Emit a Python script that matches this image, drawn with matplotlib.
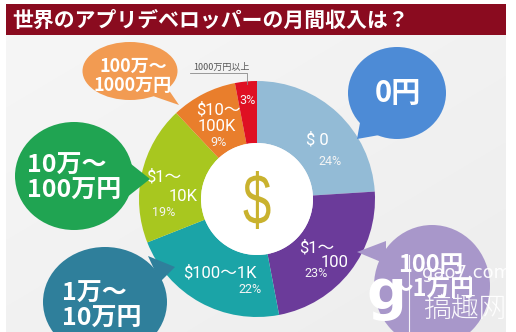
import numpy as np
import matplotlib
matplotlib.use("Agg")
import matplotlib.pyplot as plt
from matplotlib.patches import Ellipse, Polygon, Rectangle, PathPatch
from matplotlib.textpath import TextPath
from matplotlib.font_manager import FontProperties
from matplotlib.transforms import Affine2D

plt.rcParams['font.family'] = ['Noto Sans CJK JP', 'DejaVu Sans']

# ---- data ----
title = "世界のアプリデベロッパーの月間収入は？"
ranges_usd = ["$ 0", "$1～\n100", "$100～1K", "$1～\n10K", "$10～\n100K", ""]
shares = [24, 23, 22, 19, 9, 3]
share_labels = ["24%", "23%", "22%", "19%", "9%", "3%"]
ranges_yen = ["0円", "100円\n～1万円", "1万～\n10万円", "10万～\n100万円", "100万～\n1000万円"]
top_note = "1000万円以上"
site_name = "gao7.com"
site_brand = "搞趣网"

# ---- styling ----
W, H = 516, 332
slice_colors = ["#93bbd6", "#6b3b9a", "#1ba4a7", "#a8c71f", "#e97e2c", "#df1023"]
bubble_colors = ["#4d8bd6", "#a897ca", "#2f7f9b", "#20a452", "#f29b52"]
cx, cy, r_out, ring = 257, 199, 118, 62

fig = plt.figure(figsize=(W / 100, H / 100), dpi=100)
ax = fig.add_axes([0, 0, 1, 1])

# background panel with a soft gradient
gx = np.linspace(0, 1, 200)
gy = np.linspace(0, 1, 200)
GX, GY = np.meshgrid(gx, gy)
grad = 0.965 - 0.035 * (0.5 * GX + 0.5 * GY)
ax.imshow(np.dstack([grad, grad, grad]), extent=(6, 506, H, 35), zorder=0,
          interpolation="bilinear", aspect="auto")

# title bar
ax.add_patch(Rectangle((6, 4), 500, 31, facecolor="#8a0b1f", edgecolor="none", zorder=1))
ax.text(12, 20, title, color="white", fontsize=15, fontweight="bold",
        ha="left", va="center", zorder=2)

# donut
wedges, _ = ax.pie(shares, colors=slice_colors, startangle=-90, counterclock=True,
                   radius=r_out, center=(cx, cy),
                   wedgeprops=dict(width=ring, linewidth=0), frame=False)
for w in wedges:
    w.set_zorder(3)
ax.add_patch(Ellipse((cx, cy), 2 * (r_out - ring), 2 * (r_out - ring),
                     facecolor="white", edgecolor="none", zorder=4))

# slice labels, offset from each wedge's mid-angle anchor
lab_font = ['Roboto', 'Noto Sans CJK JP']
name_offsets = [[(-3, 8)], [(-13, -8), (5, 7)], [(7, -7)], [(-4, -2), (16, 18)],
                [(3, -7), (2, 9)], []]
pct_offsets = [(10, 30), (-14, 18), (37, 10), (-4, 34), (3, 25), (-1, -7)]
r_lab = 92
for w, name, pct, noffs, poff in zip(wedges, ranges_usd, share_labels, name_offsets, pct_offsets):
    mid = np.deg2rad((w.theta1 + w.theta2) / 2)
    ax_, ay_ = cx + r_lab * np.cos(mid), cy + r_lab * np.sin(mid)
    lines = name.split("\n") if name else []
    for line, (dx, dy) in zip(lines, noffs):
        ax.text(ax_ + dx, ay_ + dy, line, color="white", fontsize=12,
                family=lab_font, ha="center", va="center", zorder=5)
    ax.text(ax_ + poff[0], ay_ + poff[1], pct, color="#f4f4f4", fontsize=9,
            family=lab_font, ha="center", va="center", zorder=5)

# dollar sign in the hole
tp = TextPath((0, 0), "$", size=1, prop=FontProperties(family="Liberation Sans"))
ext = tp.get_extents()
sx = 27 / ext.width
sy = 58 / ext.height
tr = Affine2D().translate(-(ext.x0 + ext.width / 2), -(ext.y0 + ext.height / 2)).scale(sx, -sy).translate(cx, cy + 1)
ax.add_patch(PathPatch(tr.transform_path(tp), facecolor="#c9b22e", edgecolor="none", zorder=5))

# note above the small slice
ax.text(221, 67, top_note, color="#555555", fontsize=6.5, ha="center", va="center", zorder=5)
ax.plot([190, 247, 247], [73, 73, 84], color="#8a8a8a", lw=0.6, zorder=5)

# speech bubbles: (center, width, height, tail polygon)
bubbles = [
    ((397, 93), 98, 92, [(362, 112), (385, 134), (357, 139)]),
    ((432, 286), 116, 122, [(386, 241), (386, 264), (357, 252)]),
    ((105, 302), 124, 110, [(148, 256), (160, 282), (175, 267)]),
    ((74, 176), 118, 108, [(126, 160), (126, 198), (150, 179)]),
    ((130, 71), 95, 58, [(150, 95), (166, 86), (179, 105)]),
]
for (c, bw, bh, tail), col in zip(bubbles, bubble_colors):
    ax.add_patch(Ellipse(c, bw, bh, facecolor=col, edgecolor="none", zorder=6))
    ax.add_patch(Polygon(tail, closed=True, facecolor=col, edgecolor="none", zorder=6))

bubble_text = [
    ((398, 93), 21, "center"),
    ((431, 277), 17, "center"),
    ((62, 306), 18, "left"),
    ((27, 178), 18, "left"),
    ((133, 76), 13, "center"),
]
for txt, ((tx, ty), fs, ha) in zip(ranges_yen, bubble_text):
    ax.text(tx, ty, txt, color="white", fontsize=fs, fontweight="bold", ha=ha,
            va="center", multialignment="left" if ha == "left" else "center",
            linespacing=1.05, zorder=7)

# site watermark in the lower right corner
ax.text(386, 294, "g", color="white", fontsize=40, fontweight="bold",
        family="DejaVu Sans", ha="center", va="center", zorder=8)
ax.plot([409, 409], [255, H], color="white", lw=0.8, alpha=0.9, zorder=8)
ax.text(467, 273, site_name, color="white", fontsize=13, family="DejaVu Sans",
        ha="center", va="center", alpha=0.95, zorder=8)
ax.text(465, 309, site_brand, color="white", fontsize=20, fontweight="light",
        ha="center", va="center", alpha=0.95, zorder=8)

ax.set_xlim(0, W)
ax.set_ylim(H, 0)
ax.set_aspect("auto")
ax.axis("off")
fig.savefig("out.png", dpi=100, facecolor="white")
